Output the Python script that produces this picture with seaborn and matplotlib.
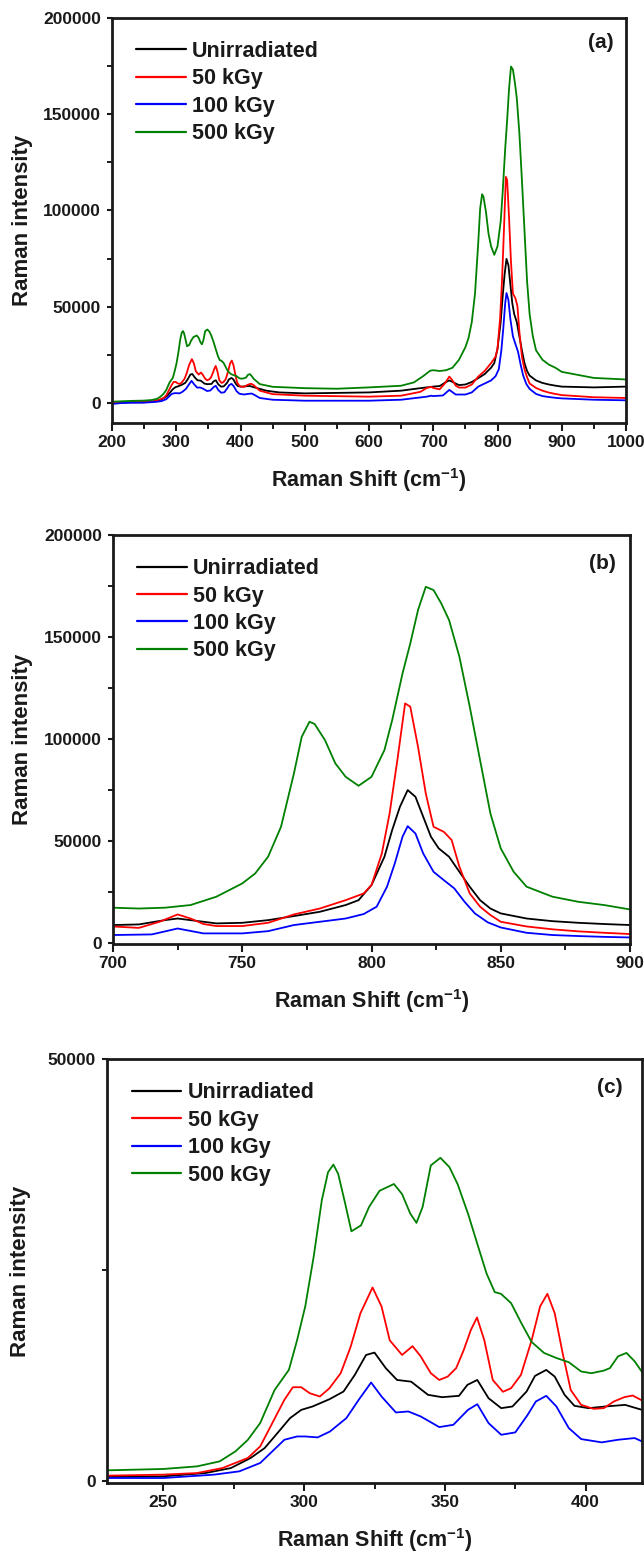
import numpy as np
import pandas as pd
import seaborn as sns
import matplotlib.pyplot as plt
from matplotlib.ticker import MultipleLocator

# Raman spectra (shift in cm-1, intensity in counts)
names = ["Unirradiated", "50 kGy", "100 kGy", "500 kGy"]
colors = ["#000000", "#ff0000", "#0000ff", "#008000"]

unirr_x = [200, 215, 230, 250, 265, 274, 281, 286, 290, 295, 299, 303, 309, 314, 318, 322,
           325, 329, 333, 338, 344, 349, 355, 358, 361.5, 365.5, 370, 374, 379, 382, 386,
           389, 392.5, 396, 401, 407, 414, 420, 440, 460, 500, 600, 650, 680, 700, 710, 720,
           725, 730, 740, 750, 760, 770, 780, 790, 795, 800, 805, 808, 811, 814, 817, 820,
           823, 826, 830, 834, 838, 842, 846, 850, 860, 870, 880, 890, 900, 950, 1000]
unirr_y = [450, 480, 510, 590, 980, 1570, 2760, 3940, 5500, 7480, 8460, 8860, 9720, 10630,
           12600, 14960, 15240, 13400, 12000, 11800, 10240, 9960, 10120, 11420, 12000, 9840,
           8660, 8860, 10630, 12480, 13190, 12400, 10240, 8940, 8660, 8860, 9050, 8460, 6600,
           5700, 5200, 5700, 6600, 7900, 8700, 9000, 11100, 11900, 11100, 9500, 9800, 11100,
           13100, 15200, 18500, 20900, 28300, 42200, 55300, 66700, 74900, 71600, 61800, 52000,
           46300, 42200, 34800, 27500, 20900, 16800, 14400, 11900, 10600, 9800, 9200, 8700,
           8300, 8700]

k50_x = [200, 215, 230, 250, 262, 271, 280, 284.4, 288.7, 293, 296, 299, 302, 305.6, 309,
         313, 316.5, 320, 324.3, 327.5, 330.4, 334.8, 338.5, 341.4, 345, 348, 351, 354,
         356.7, 359.2, 361.4, 364, 367, 370.6, 373.5, 377, 380.8, 383.8, 386.4, 389, 391.8,
         394.7, 398.4, 402.8, 406.4, 410, 413.7, 416.7, 420, 430, 450, 500, 600, 650, 680,
         690, 697, 700, 710, 718, 725, 730, 735, 740, 750, 760, 770, 780, 790, 797, 800, 804,
         807, 810, 813, 815, 818, 821, 824, 828, 831, 834, 838, 842, 846, 850, 860, 870, 880,
         890, 900, 950, 1000]
k50_y = [600, 640, 670, 790, 980, 1570, 2760, 4130, 6890, 9650, 11140, 11140, 10430, 10040,
         11020, 12800, 15900, 19900, 22950, 20700, 16700, 14960, 16000, 14800, 12800, 12000,
         12400, 13400, 15550, 17900, 19400, 16700, 12000, 10600, 11020, 12600, 16700, 20700,
         22200, 19900, 15200, 10800, 9050, 8580, 8660, 9450, 9960, 10160, 9570, 6600, 4800,
         4000, 3500, 4000, 6000, 8000, 8600, 8000, 7300, 10300, 13900, 11900, 9200, 8200,
         8200, 9800, 13900, 16800, 20900, 24200, 28300, 43800, 63400, 89600, 117400, 115800,
         96100, 73200, 56900, 54400, 50400, 37300, 24200, 17700, 13600, 10300, 8000, 6600,
         5600, 4900, 4300, 3200, 2800]

k100_x = [200, 215, 230, 250, 268, 277, 284.4, 288.7, 293, 297.5, 300.4, 304.8, 309.2, 315,
          319.4, 323.8, 327.5, 332.6, 337, 341.4, 348, 353, 358.2, 361.5, 365.5, 370, 375,
          379.4, 382.3, 386, 389.6, 394, 398.4, 405.7, 411.5, 417.4, 420, 430, 450, 500, 600,
          650, 690, 697, 700, 715, 725, 735, 750, 760, 770, 780, 790, 797, 802, 806, 809, 812,
          814, 817, 820, 824, 828, 832, 836, 840, 845, 850, 860, 870, 880, 890, 900, 950, 1000]
k100_y = [-300, 200, 390, 390, 790, 1180, 2170, 3540, 4920, 5310, 5310, 5200, 5900, 7480,
          9650, 11700, 10040, 8150, 8270, 7680, 6420, 6690, 8460, 9130, 6890, 5510, 5790,
          7870, 9450, 10120, 8860, 6300, 5000, 4610, 4920, 5120, 4720, 2800, 1900, 1400, 1400,
          1900, 3500, 4000, 3800, 4100, 7000, 4600, 4600, 5700, 8700, 10300, 11900, 14100,
          17700, 27500, 38900, 52000, 57200, 53600, 43800, 34800, 30700, 26700, 20100, 14400,
          10000, 7500, 4900, 3800, 3300, 2900, 2600, 1900, 1600]

k500_x = [200, 230, 250, 262, 270, 275.6, 280, 284.4, 289.5, 294.6, 297.5, 300.4, 303.4,
          306.3, 308.5, 310.4, 312.1, 314.3, 316.8, 320.2, 323.1, 326.8, 331.9, 334.8, 337.7,
          339.9, 342.1, 345, 348.4, 351.6, 354.5, 358.2, 361.8, 364.8, 367.7, 369.9, 373.5,
          377.2, 380.8, 385.2, 389.6, 394, 398.4, 402, 406.4, 408.6, 411.5, 414.5, 417.4,
          420.3, 430, 450, 500, 550, 600, 650, 670, 685, 695, 700, 710, 720, 730, 740, 750,
          755, 760, 765, 770, 773, 776, 778, 782, 786, 790, 795, 800, 805, 808, 812, 815, 818,
          821, 824, 827, 830, 834, 838, 842, 846, 850, 855, 860, 870, 880, 890, 900, 950, 1000]
k500_y = [900, 1300, 1460, 1770, 2360, 3540, 4900, 6900, 10800, 13200, 16700, 20700, 26600,
          33300, 36600, 37500, 36400, 33300, 29600, 30300, 32500, 34400, 35200, 34000, 31700,
          30600, 32500, 37400, 38300, 37200, 35200, 31700, 27800, 24600, 22400, 22200, 21100,
          18700, 16500, 15200, 14600, 14100, 13000, 12800, 13100, 13400, 14800, 15200, 14200,
          12800, 10000, 8600, 7900, 7600, 8300, 9150, 10900, 14300, 16900, 17200, 16800,
          17200, 18500, 22600, 29100, 34000, 42200, 56900, 83100, 101000, 108400, 107300,
          99400, 88000, 81400, 77000, 81400, 94500, 109200, 132100, 146800, 163200, 174600,
          173000, 166400, 158300, 140300, 115800, 89600, 63400, 46300, 34800, 27500, 22600,
          20100, 18500, 16350, 13200, 12400]

series = [(unirr_x, unirr_y), (k50_x, k50_y), (k100_x, k100_y), (k500_x, k500_y)]
frames = []
for name, (xs, ys) in zip(names, series):
    frames.append(pd.DataFrame({"shift": xs, "intensity": ys, "sample": name}))
df = pd.concat(frames, ignore_index=True)

sns.set_style("ticks")
plt.rcParams["font.family"] = ["Liberation Sans", "DejaVu Sans"]
plt.rcParams["font.weight"] = "bold"
plt.rcParams["mathtext.fontset"] = "custom"
plt.rcParams["mathtext.rm"] = "Liberation Sans:bold"
plt.rcParams["mathtext.bf"] = "Liberation Sans:bold"

txt = "#1a1a1a"
fig = plt.figure(figsize=(6.44, 15.53), dpi=100)

# axes boxes in pixels: left, top, right, bottom
W, H = 644, 1553
boxes = [(112, 17.5, 626, 422.7), (113, 535, 630, 944), (107, 1059, 642, 1483)]
panels = [
    dict(xlim=(200, 1000), ylim=(-10000, 200000), xmaj=100, xmin=50, tag="(a)", tagpos=(0.975, 0.938),
         leg=(0.0467, 0.942), xlab=480, ylab=22.7),
    dict(xlim=(700, 900), ylim=(-600, 200000), xmaj=50, xmin=25, tag="(b)", tagpos=(0.973, 0.931),
         leg=(0.0464, 0.9435), xlab=1001.5, ylab=22.7),
    dict(xlim=(230, 420), ylim=(-200, 50000), xmaj=50, xmin=25, tag="(c)", tagpos=(0.963, 0.932),
         leg=(0.0467, 0.945), xlab=1540, ylab=20.6),
]

for (l, t, r, b), p in zip(boxes, panels):
    ax = fig.add_axes([l / W, 1 - b / H, (r - l) / W, (b - t) / H])
    sns.lineplot(data=df, x="shift", y="intensity", hue="sample", hue_order=names,
                 palette=colors, estimator=None, sort=True, linewidth=1.3, ax=ax, legend=False)
    ax.set_xlim(*p["xlim"])
    ax.set_ylim(*p["ylim"])
    ax.xaxis.set_major_locator(MultipleLocator(p["xmaj"]))
    ax.xaxis.set_minor_locator(MultipleLocator(p["xmin"]))
    ax.yaxis.set_major_locator(MultipleLocator(50000))
    ax.yaxis.set_minor_locator(MultipleLocator(25000))
    ax.tick_params(which="both", direction="out", colors=txt, labelsize=12.5)
    ax.tick_params(axis="x", which="major", length=5.8, width=1.5, pad=3)
    ax.tick_params(axis="x", which="minor", length=4.5, width=1.4)
    ax.tick_params(axis="y", which="major", length=3.5, width=1.5, pad=4.5)
    ax.tick_params(axis="y", which="minor", length=3.5, width=1.4)
    for lab in ax.get_xticklabels() + ax.get_yticklabels():
        lab.set_fontweight("bold")
    for sp in ax.spines.values():
        sp.set_linewidth(2.0)
        sp.set_color(txt)
    hpx = b - t
    wpx = r - l
    ax.set_xlabel(r"Raman Shift (cm$^{\mathbf{-1}}$)", fontsize=15.5, fontweight="bold", color=txt)
    ax.set_ylabel("Raman intensity", fontsize=16, fontweight="bold", color=txt)
    ax.xaxis.label.set_va("center")
    ax.yaxis.label.set_va("center")
    ax.xaxis.set_label_coords(0.5, -(p["xlab"] - b) / hpx)
    ax.yaxis.set_label_coords(-(l - p["ylab"]) / wpx, 0.5)
    ax.text(p["tagpos"][0], p["tagpos"][1], p["tag"], transform=ax.transAxes, ha="right",
            va="center", fontsize=15, fontweight="bold", color=txt)
    leg = ax.legend(handles=ax.get_lines()[:4], labels=names, loc="upper left",
                    bbox_to_anchor=p["leg"], frameon=False, fontsize=15.5,
                    handlelength=2.3, handletextpad=0.3, labelspacing=0.3,
                    borderaxespad=0, borderpad=0)
    for tx in leg.get_texts():
        tx.set_fontweight("bold")
        tx.set_color(txt)
    for ln in leg.get_lines():
        ln.set_linewidth(1.6)

fig.savefig("out.png", dpi=100)
